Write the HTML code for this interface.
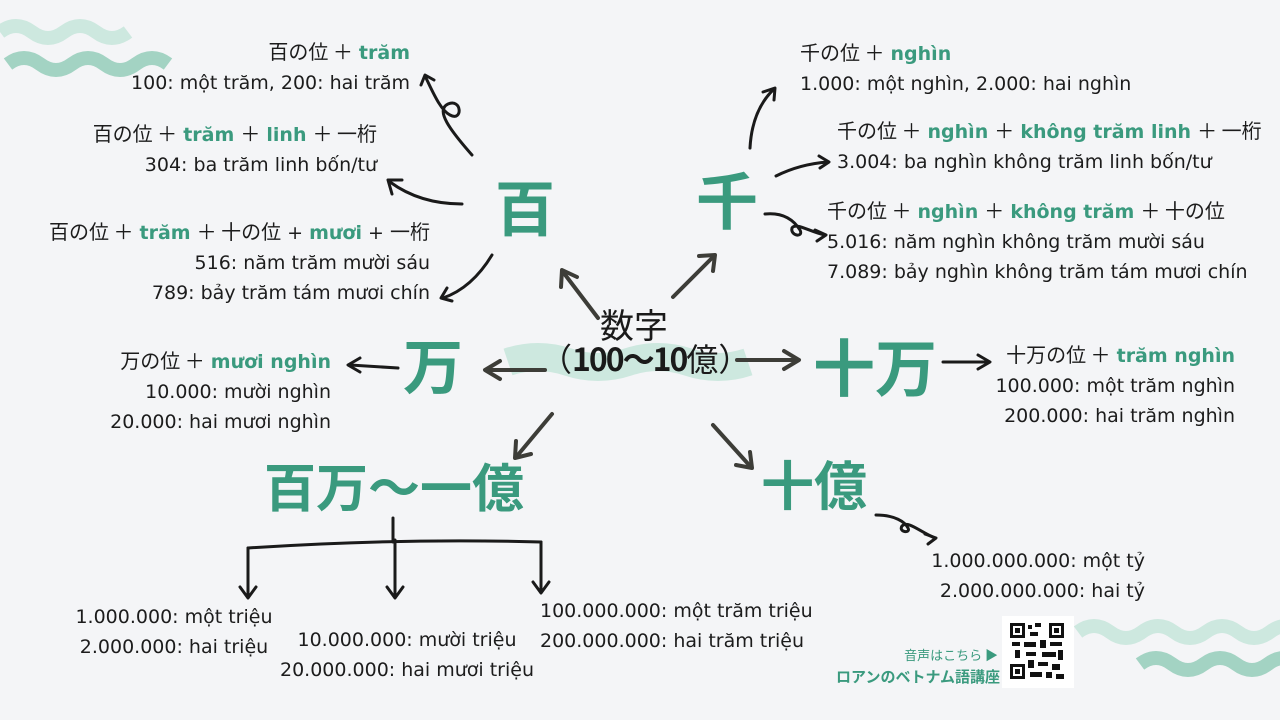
<!DOCTYPE html>
<html><head><meta charset="utf-8"><style>
html,body{margin:0;padding:0}
body{width:1280px;height:720px;background:#f4f5f7;position:relative;overflow:hidden;font-family:"DejaVu Sans","Noto Sans CJK JP",sans-serif;color:#1c1c1c}
.t{position:absolute;font-size:19px;line-height:30px;white-space:nowrap}
.r{text-align:right}
.g{color:#3a9a7e;font-weight:bold}
.j{font-family:"Noto Sans CJK JP",sans-serif;font-size:20px}
.big{position:absolute;color:#3a9a7e;font-weight:bold;font-family:"Noto Sans CJK JP",sans-serif;white-space:nowrap;line-height:1}
svg{position:absolute;left:0;top:0}
</style></head><body>
<svg width="1280" height="720">
<g fill="none" stroke-linecap="butt">
<path d="M0,32 q16,-12 32,0 t32,0 t32,0 t32,0" stroke="#cde8df" stroke-width="14"/>
<path d="M8,64 q16,-12 32,0 t32,0 t32,0 t32,0 t32,0" stroke="#a3d3c3" stroke-width="14"/>
<path d="M1078,632 q16,-12 32,0 t32,0 t32,0 t32,0 t32,0 t32,0 t32,0" stroke="#cde8df" stroke-width="14"/>
<path d="M1140,664 q16,-12 32,0 t32,0 t32,0 t32,0 t32,0" stroke="#a3d3c3" stroke-width="14"/>
<path d="M508,362 q30,-10 60,0 t60,0 t60,0 t60,0" stroke="#cde8df" stroke-width="28"/>
</g>
<g fill="none" stroke="#1a1a1a" stroke-width="3" stroke-linecap="round" stroke-linejoin="round">
<path d="M472,155 C450,130 435,110 448,104 C462,98 463,122 450,115 C440,110 432,90 425,76"/>
<path d="M421,85 L425,75 L434,80"/>
<path d="M462,204 Q420,204 390,182"/><path d="M392,194 L388,180 L402,180"/>
<path d="M492,255 Q472,288 443,298"/><path d="M447,288 L441,298 L452,301"/>
<path d="M750,148 Q752,110 774,89"/><path d="M763,92 L775,88 L774,100"/>
<path d="M776,176 Q800,164 828,162"/><path d="M819,156 L829,162 L820,168"/>
<path d="M765,214 C785,212 795,222 800,230 C804,238 790,236 792,228 C796,222 810,232 825,235"/><path d="M815,230 L826,235 L817,241"/>
<path d="M876,515 C895,515 905,522 908,528 C911,534 898,532 902,526 C908,520 920,532 935,538"/><path d="M925,534 L936,538 L928,544"/>
<path d="M398,368 L350,365"/><path d="M360,358 L348,365 L360,372"/>
<path d="M943,362 L988,362"/><path d="M978,355 L990,362 L978,369"/>
<path d="M393,518 L393,542"/>
<path d="M248,548 Q400,538 541,542"/>
<path d="M248,548 L248,597"/><path d="M240,587 L248,598 L256,587"/>
<path d="M395,540 L395,597"/><path d="M387,587 L395,598 L403,587"/>
<path d="M541,542 L541,592"/><path d="M533,582 L541,593 L549,582"/>
</g>
<g fill="none" stroke="#3d3d38" stroke-width="4" stroke-linecap="round" stroke-linejoin="round">
<path d="M598,318 L563,272"/><path d="M561,287 L562,270 L577,277"/>
<path d="M673,297 L714,256"/><path d="M699,256 L715,255 L713,271"/>
<path d="M545,370 L487,370"/><path d="M500,361 L485,370 L500,379"/>
<path d="M737,360 L797,360"/><path d="M784,351 L799,360 L784,369"/>
<path d="M552,414 L517,456"/><path d="M516,441 L515,458 L531,454"/>
<path d="M713,425 L750,466"/><path d="M736,465 L752,468 L750,452"/>
</g>
<rect x="1002" y="616" width="72" height="72" fill="#fff"/>
<g fill="#111">
<rect x="1010" y="623" width="15" height="15"/><rect x="1049" y="623" width="15" height="15"/><rect x="1010" y="664" width="15" height="15"/>
<rect x="1028" y="625" width="4" height="4"/><rect x="1035" y="623" width="6" height="4"/><rect x="1030" y="632" width="8" height="4"/>
<rect x="1012" y="642" width="8" height="4"/><rect x="1024" y="642" width="12" height="5"/><rect x="1040" y="640" width="6" height="8"/><rect x="1050" y="642" width="12" height="4"/>
<rect x="1015" y="650" width="5" height="8"/><rect x="1026" y="652" width="10" height="4"/><rect x="1042" y="652" width="14" height="5"/><rect x="1058" y="650" width="5" height="10"/>
<rect x="1028" y="660" width="6" height="8"/><rect x="1038" y="662" width="10" height="4"/><rect x="1052" y="664" width="8" height="6"/>
<rect x="1030" y="672" width="12" height="5"/><rect x="1046" y="672" width="6" height="6"/><rect x="1056" y="674" width="8" height="5"/>
</g>
<g fill="#fff"><rect x="1013" y="626" width="9" height="9"/><rect x="1052" y="626" width="9" height="9"/><rect x="1013" y="667" width="9" height="9"/></g>
<g fill="#111"><rect x="1015" y="628" width="5" height="5"/><rect x="1054" y="628" width="5" height="5"/><rect x="1015" y="669" width="5" height="5"/></g>
</svg>

<div class="t r" style="right:870px;top:36px"><span class="j">百の位 ＋</span> <span class="g">trăm</span><br>100: một trăm, 200: hai trăm</div>
<div class="t r" style="right:903px;top:118px"><span class="j">百の位 ＋</span> <span class="g">trăm</span> <span class="j">＋</span> <span class="g">linh</span> <span class="j">＋ 一桁</span><br>304: ba trăm linh bốn/tư</div>
<div class="t r" style="right:850px;top:216px"><span class="j">百の位 ＋</span> <span class="g">trăm</span> <span class="j">＋ 十の位</span> + <span class="g">mươi</span> + <span class="j">一桁</span><br>516: năm trăm mười sáu<br>789: bảy trăm tám mươi chín</div>
<div class="t r" style="right:949px;top:345px"><span class="j">万の位 ＋</span> <span class="g">mươi nghìn</span><br>10.000: mười nghìn<br>20.000: hai mươi nghìn</div>

<div class="t" style="left:800px;top:37px"><span class="j">千の位 ＋</span> <span class="g">nghìn</span><br>1.000: một nghìn, 2.000: hai nghìn</div>
<div class="t" style="left:837px;top:115px"><span class="j">千の位 ＋</span> <span class="g">nghìn</span> <span class="j">＋</span> <span class="g">không trăm linh</span> <span class="j">＋ 一桁</span><br>3.004: ba nghìn không trăm linh bốn/tư</div>
<div class="t" style="left:827px;top:195px"><span class="j">千の位 ＋</span> <span class="g">nghìn</span> <span class="j">＋</span> <span class="g">không trăm</span> <span class="j">＋ 十の位</span><br>5.016: năm nghìn không trăm mười sáu<br>7.089: bảy nghìn không trăm tám mươi chín</div>
<div class="t r" style="right:45px;top:339px"><span class="j">十万の位 ＋</span> <span class="g">trăm nghìn</span><br>100.000: một trăm nghìn<br>200.000: hai trăm nghìn</div>
<div class="t r" style="right:135px;top:546px">1.000.000.000: một tỷ<br>2.000.000.000: hai tỷ</div>

<div class="t" style="left:59px;top:602px;text-align:center;width:230px">1.000.000: một triệu<br>2.000.000: hai triệu</div>
<div class="t" style="left:261px;top:625px;text-align:center;width:292px">10.000.000: mười triệu<br>20.000.000: hai mươi triệu</div>
<div class="t" style="left:540px;top:596px">100.000.000: một trăm triệu<br>200.000.000: hai trăm triệu</div>

<div class="big" style="left:495px;top:176px;font-size:60px">百</div>
<div class="big" style="left:696px;top:166px;font-size:62px">千</div>
<div class="big" style="left:403px;top:334px;font-size:60px">万</div>
<div class="big" style="left:813px;top:333px;font-size:62px">十万</div>
<div class="big" style="left:761px;top:457px;font-size:53px">十億</div>
<div class="big" style="left:264px;top:459px;font-size:52px">百万〜一億</div>

<div style="position:absolute;left:600px;top:307px;font-size:34px;line-height:1;font-family:'Noto Sans CJK JP',sans-serif;color:#1a1a1a">数字</div>
<div style="position:absolute;left:540px;top:342px;font-size:32px;line-height:1;font-family:'Noto Sans CJK JP',sans-serif;color:#1a1a1a;white-space:nowrap">（<b style="letter-spacing:-2px">100〜10</b>億）</div>

<div style="position:absolute;right:282px;top:645px;font-size:13px;color:#3a9a7e;font-family:'Noto Sans CJK JP',sans-serif">音声はこちら ▶</div>
<div style="position:absolute;right:280px;top:666px;font-size:15px;font-weight:bold;color:#3a9a7e;font-family:'Noto Sans CJK JP',sans-serif">ロアンのベトナム語講座</div>
</body></html>
